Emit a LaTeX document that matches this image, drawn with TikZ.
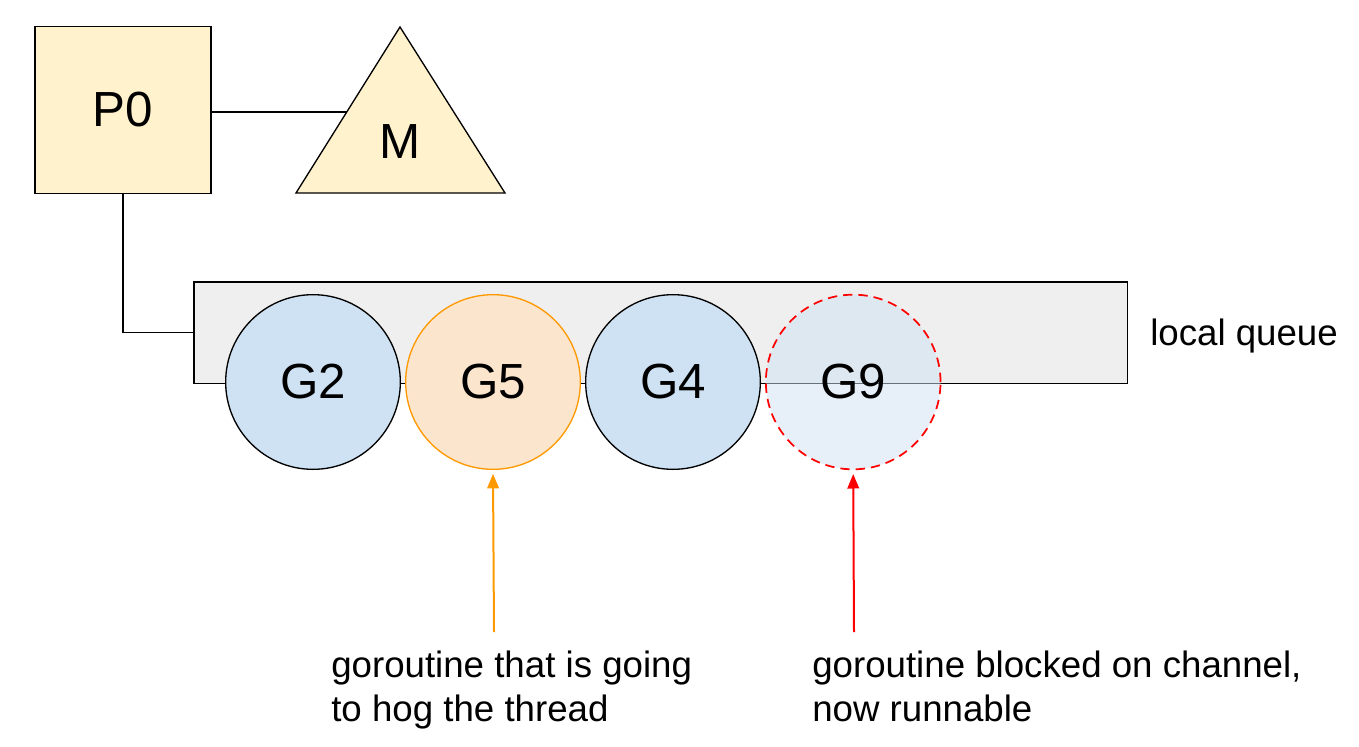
\documentclass[tikz,border=0pt]{standalone}
\usepackage{fontspec}
\setmainfont{Liberation Sans}
\usetikzlibrary{arrows,positioning}

\definecolor{pyellow}{HTML}{FFF2CC}
\definecolor{gblue}{HTML}{CFE2F3}
\definecolor{gpeach}{HTML}{FCE5CD}
\definecolor{gorange}{HTML}{FF9900}
\definecolor{qgray}{HTML}{EFEFEF}

\tikzset{
  pbox/.style={draw, line width=1pt, fill=pyellow, minimum width=132pt, minimum height=125pt, inner sep=0pt, font=\fontsize{37}{40}\selectfont},
  queuebox/.style={draw, line width=1pt, fill=qgray, minimum width=700pt, minimum height=76pt, inner sep=0pt},
  gor/.style={circle, draw, line width=1pt, fill=gblue, minimum size=131pt, inner sep=0pt, font=\fontsize{37}{40}\selectfont},
  hog/.style={gor, draw=gorange, fill=gpeach},
  ready/.style={gor, draw=red, line width=1.3pt, dash pattern=on 7pt off 4.5pt, fill=gblue, fill opacity=0.5, text opacity=1},
  note/.style={align=left, anchor=north west, inner sep=0pt, font=\fontsize{27.5}{33}\selectfont}
}

\begin{document}
\begin{tikzpicture}[x=0.75pt,y=-0.75pt,>=triangle 45,node distance=3pt]

  \useasboundingbox (0,0) rectangle (1359,746);

  \node[pbox] (p0) at (123,110) {P0};

  % machine
  \draw[line width=1pt, fill=pyellow] (400,27) -- (505,193) -- (296,193) -- cycle;
  \node[font=\fontsize{37}{40}\selectfont] (m) at (400,142) {M};
  \coordinate (mleft) at (347,112);
  \draw[line width=1pt] (p0.east |- mleft) -- (mleft);

  % local queue
  \node[queuebox] (queue) at (660.5,332.5) {};
  \draw[line width=1pt] (p0) |- (queue);
  \node[anchor=west, inner sep=0pt, font=\fontsize{27.5}{33}\selectfont] (qlabel) at (1150,336) {local queue};

  \node[gor] (g2) at (313,382) {G2};
  \node[hog] (g5) [right=of g2] {G5};
  \node[gor] (g4) [right=of g5] {G4};
  \node[ready] (g9) [right=of g4] {G9};

  \coordinate (hogtail) at (494,632);
  \coordinate (readytail) at (854,632);
  \draw[->, gorange, line width=1.5pt] (hogtail) -- ([yshift=-3pt]g5.south);
  \draw[->, red, line width=1.5pt] (readytail) -- ([yshift=-3pt]g9.south);

  \node[note] (hognote) at (331,651) {goroutine that is going\\to hog the thread};
  \node[note] (readynote) at (812,651) {goroutine blocked on channel,\\now runnable};

\end{tikzpicture}
\end{document}
